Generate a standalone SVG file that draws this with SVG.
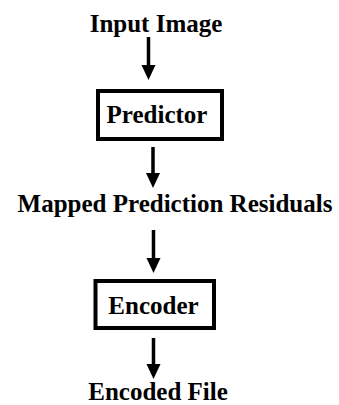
<svg xmlns="http://www.w3.org/2000/svg" width="339" height="405" viewBox="0 0 339 405">
  <style>
    .lbl { font-family: "Liberation Serif", "Times New Roman", serif; font-weight: bold; font-size: 25px; fill: #000; text-anchor: middle; }
    .box { fill: #fff; stroke: #000; stroke-width: 4; }
    .flow { stroke: #000; stroke-width: 3.5; fill: none; marker-end: url(#head); }
  </style>
  <defs>
    <marker id="head" markerUnits="userSpaceOnUse" markerWidth="16" markerHeight="16" viewBox="0 -8 16 16" refX="0" refY="0" orient="auto">
      <path d="M0,-7 L15,0 L0,7 z" fill="#000"/>
    </marker>
  </defs>

  <g id="input-image">
    <text class="lbl" x="156" y="31.5">Input Image</text>
  </g>

  <g id="predictor">
    <rect class="box" x="98" y="91" width="124" height="48"/>
    <text class="lbl" x="157" y="123">Predictor</text>
  </g>

  <g id="mapped-residuals">
    <text class="lbl" x="175" y="212">Mapped Prediction Residuals</text>
  </g>

  <g id="encoder">
    <rect class="box" x="95.5" y="281" width="118.5" height="47"/>
    <text class="lbl" x="153.5" y="314">Encoder</text>
  </g>

  <g id="encoded-file">
    <text class="lbl" x="158" y="399.5">Encoded File</text>
  </g>

  <g id="connectors">
    <line class="flow" x1="148.5" y1="37" x2="148.5" y2="65"/>
    <line class="flow" x1="153" y1="147" x2="153" y2="173"/>
    <line class="flow" x1="153.5" y1="230" x2="153.5" y2="258"/>
    <line class="flow" x1="153.5" y1="338" x2="153.5" y2="364"/>
  </g>
</svg>
